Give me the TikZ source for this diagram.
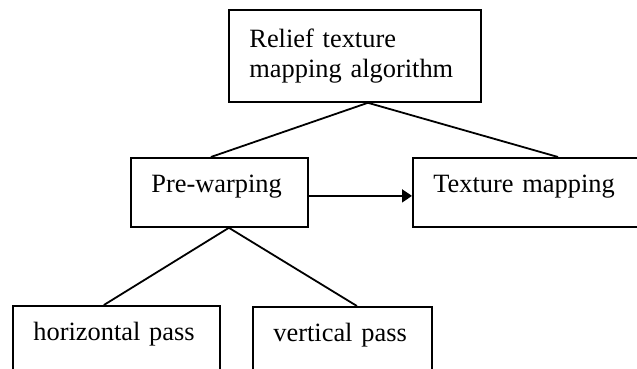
\documentclass[tikz,border=0pt]{standalone}
\usepackage{fontspec}
\setmainfont{Liberation Serif}
\usetikzlibrary{arrows.meta,positioning}

\begin{document}
\begin{tikzpicture}[x=1pt,y=-1pt,
  font={\fontsize{26.4}{29.5}\selectfont},
  tbox/.style={draw,line width=1.8pt,anchor=north west,align=left,
    inner xsep=20.5pt,inner ysep=0pt},
  onebox/.style={tbox,text height=35pt,text depth=34pt},
  link/.style={line width=1.8pt}]
% Page frame: the right and lower boxes run past it
\useasboundingbox (0,0) rectangle (637,369);
\clip (0,0) rectangle (637,369);
% Boxes
\node[tbox,text width=211pt,minimum height=92pt] (relief) at (228,9)
  {Relief texture\\mapping algorithm};
\node[onebox,text width=136pt] (prewarp) at (130,157) {Pre-warping};
\node[onebox,text width=200pt] (texmap) at (412,157) {Texture mapping};
\node[onebox,text width=166pt] (hpass) at (12,305) {horizontal pass};
\node[onebox,text width=138pt] (vpass) at (252,306) {vertical pass};
% Tree lines
\draw[link] ([xshift=13pt]relief.south) -- ([xshift=-8.5pt]prewarp.north);
\draw[link] ([xshift=13pt]relief.south) -- ([xshift=146pt]texmap.north west);
\draw[link] ([xshift=9.5pt]prewarp.south) -- ([xshift=-12.5pt]hpass.north);
\draw[link] ([xshift=9.5pt]prewarp.south) -- ([xshift=14.5pt]vpass.north);
% Arrow to the mapping step
\draw[link,-{Triangle[length=10pt,width=13pt]}]
  ([yshift=-3.5pt]prewarp.east) -- ([yshift=-3.5pt]texmap.west);
\end{tikzpicture}
\end{document}
